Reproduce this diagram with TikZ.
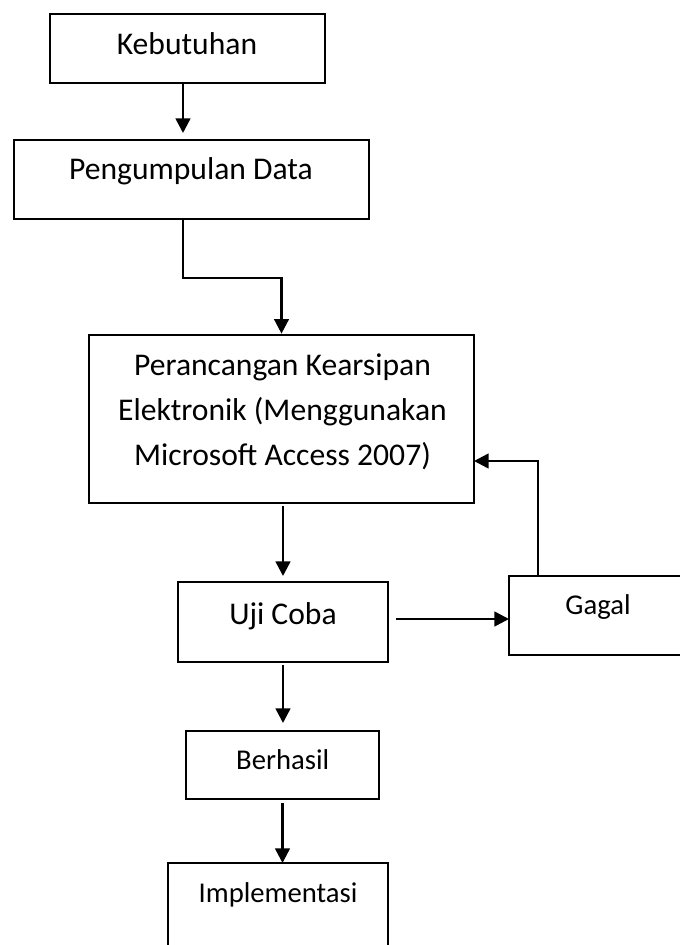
\documentclass[tikz,border=0pt]{standalone}
\usepackage{fontspec}
\setmainfont{Carlito}
\usetikzlibrary{arrows.meta,calc}
\begin{document}
\begin{tikzpicture}[x=0.75pt,y=-0.75pt,
  box/.style={draw, line width=1.5pt, inner sep=0pt, outer sep=0pt, rectangle},
  big/.style={font=\fontsize{23.7pt}{28pt}\selectfont, anchor=base, inner sep=0pt},
  small/.style={font=\fontsize{21.5pt}{26pt}\selectfont, anchor=base, inner sep=0pt},
  arr/.style={line width=1.9pt, -{Triangle[length=11pt,width=11pt]}}]
\useasboundingbox (0,0) rectangle (680,945);
\clip (0,0) rectangle (680,945);
% boxes
\node[box, minimum width=206.25pt, minimum height=51.75pt] (kb) at (187.5,48.5) {};
\node[box, minimum width=266.25pt, minimum height=59.25pt] (pd) at (191.5,179.5) {};
\node[box, minimum width=288.75pt, minimum height=126pt] (pr) at (281.5,419) {};
\node[box, minimum width=157.5pt, minimum height=60pt] (uj) at (283,622) {};
\node[box, minimum width=143.25pt, minimum height=59.25pt] (gg) at (604.5,615.5) {};
\node[box, minimum width=144.75pt, minimum height=51pt] (bh) at (282.5,765) {};
\node[box, minimum width=165pt, minimum height=87.75pt] (im) at (278,921.5) {};
% texts
\node[big] (kbt) at (187,55) {Kebutuhan};
\node[big] (pdt) at (191,180) {Pengumpulan Data};
\node[big] (pr1) at (282.5,375) {Perancangan Kearsipan};
\node[big] (pr2) at (282.5,420) {Elektronik (Menggunakan};
\node[big] (pr3) at (282.5,465) {Microsoft Access 2007)};
\node[big] (ujt) at (283,624) {Uji Coba};
\node[small] (ggt) at (598,614) {Gagal};
\node[small] (bht) at (282.7,769) {Berhasil};
\node[small] (imt) at (278,902) {Implementasi};
% connectors
\coordinate (xa) at (183,0);
\draw[arr, shorten >=5.25pt] (kb.south -| xa) -- (pd.north -| xa);
\draw[arr, shorten >=1pt] (pd.south -| xa) |- ($(pr.north)+(0,-57)$) -- (pr.north);
\draw[arr, shorten <=2.25pt, shorten >=4.5pt] (pr.south -| uj.north) -- (uj.north);
\draw[arr, shorten <=6pt] ([yshift=2.25pt]uj.east) -- ([yshift=2.25pt]uj.east -| gg.west);
\draw[arr] ([xshift=70.5pt]gg.north west) -- ([xshift=21.75pt]gg.north west) |- ([yshift=-31.5pt]pr.east);
\draw[arr, shorten <=2.25pt, shorten >=6pt] (uj.south) -- (uj.south |- bh.north);
\draw[arr, shorten <=3pt] (bh.south) -- (bh.south |- im.north);
\end{tikzpicture}
\end{document}
